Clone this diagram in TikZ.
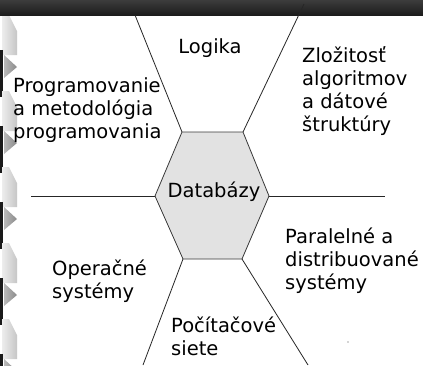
\documentclass[tikz,border=0pt]{standalone}
\usepackage{fontspec}
\setmainfont{DejaVu Sans}
\definecolor{bartop}{HTML}{3C3C3C}
\definecolor{barmid}{HTML}{6A6A6A}
\definecolor{barbot}{HTML}{1C1C1C}
\definecolor{hexfill}{HTML}{E2E2E2}
\definecolor{hexline}{HTML}{3A3A3A}
\definecolor{ribbonL}{HTML}{EDEDED}
\definecolor{ribbonR}{HTML}{C6C6C6}
\definecolor{notch}{HTML}{8A8A8A}
\definecolor{spine}{HTML}{1A1A1A}
\tikzset{
  spoke/.style={draw=black!85, line width=0.8pt},
  hexbox/.style={fill=hexfill, draw=hexline, line width=0.8pt},
  topic/.style={font=\fontsize{19.5}{23.3}\selectfont, inner sep=0pt, anchor=base west},
  hub/.style={font=\fontsize{19.5}{23.3}\selectfont, inner sep=0pt, anchor=base},
}
\newcommand{\lines}[1]{\begin{tabular}[t]{@{}l@{}}#1\end{tabular}}
\begin{document}
\begin{tikzpicture}[x=1pt,y=-1pt]
\useasboundingbox (0,0) rectangle (423,365);
\fill[white] (0,0) rectangle (423,365);

% binder ribbon along the left edge
\foreach \t in {67,143,219,295,371} {
  \shade[left color=ribbonL, right color=ribbonR]
    (2,\t-52) -- (9,\t-52) -- (17,\t-36) -- (17,\t-12) -- (2,\t-12) -- cycle;
  \shade[left color=notch!60, right color=notch]
    (4,\t-12) -- (17,\t) -- (4,\t+11) -- cycle;
  \fill[spine] (0,\t-17) rectangle (3,\t+30);
}

% title bar
\shade[top color=bartop, middle color=barmid, bottom color=barbot]
  (0,0) rectangle (423,15);

% hexagon corners
\coordinate (vL)  at (155,196);
\coordinate (vTL) at (182,132);
\coordinate (vTR) at (243,132);
\coordinate (vR)  at (269,196);
\coordinate (vBR) at (242,259);
\coordinate (vBL) at (183,259);

% outer ends of the spokes
\coordinate (eTL) at (135,15);
\coordinate (eTR) at (304,4);
\coordinate (eL)  at (31,196);
\coordinate (eR)  at (385,196);
\coordinate (eBL) at (143,365);
\coordinate (eBR) at (308,365);

\draw[spoke] (vTL) -- (eTL);
\draw[spoke] (vTR) -- (eTR);
\draw[spoke] (vL) -- (eL);
\draw[spoke] (vR) -- (eR);
\draw[spoke] (vBL) -- (eBL);
\draw[spoke] (vBR) -- (eBR);

\path[hexbox] (vL) -- (vTL) -- (vTR) -- (vR) -- (vBR) -- (vBL) -- cycle;

\node[hub] (db) at (214,197) {Databázy};

\node[hub]   (logika) at (210,53)  {Logika};
\node[topic] (prog)   at (13,92)   {\lines{Programovanie\\a metodológia\\programovania}};
\node[topic] (zloz)   at (302,62)  {\lines{Zložitosť\\algoritmov\\a dátové\\štruktúry}};
\node[topic] (par)    at (285,243) {\lines{Paralelné a\\distribuované\\systémy}};
\node[topic] (os)     at (52,275)  {\lines{Operačné\\systémy}};
\node[topic] (siete)  at (171,332) {\lines{Počítačové\\siete}};

\fill[black!70] (348,342) circle (0.6);
\end{tikzpicture}
\end{document}
